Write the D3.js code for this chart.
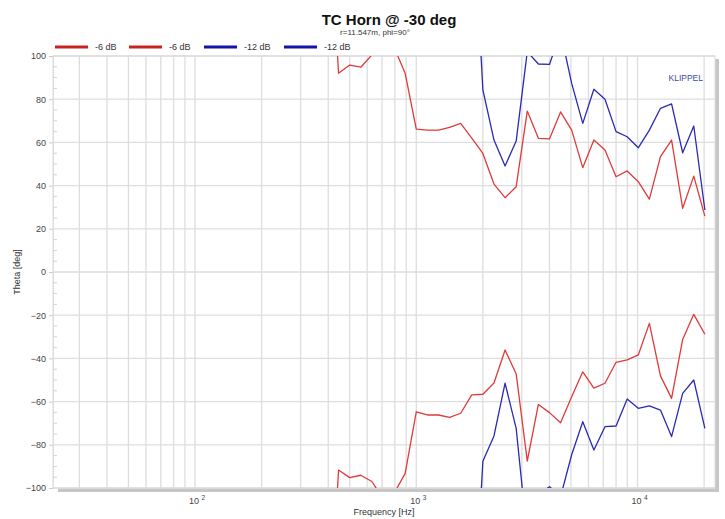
<!DOCTYPE html>
<html><head><meta charset="utf-8">
<script src="https://cdn.jsdelivr.net/npm/d3@7"></script>
<style>body{margin:0;background:#fff}svg{display:block;font-family:"Liberation Sans",Arial,sans-serif}</style>
</head><body><svg id="c" width="725" height="519"></svg>
<script>
// 1/6-octave frequencies [Hz]
const freqs = [396.9,445.4,500,561.2,630,707.1,793.7,890.9,1000,1122.5,1259.9,1414.2,1587.4,1781.8,2000,2244.9,2519.8,2828.4,3174.8,3563.6,4000,4489.8,5039.7,5656.9,6349.6,7127.2,8000,8979.7,10079.4,11313.7,12699.2,14254.4,16000,17959.4,20158.7];
const red6Upper = [180,92,95.8,94.8,100.5,110,104,92,66.1,65.7,65.7,67,68.8,62,54.9,40.7,34.4,39.5,74.5,61.9,61.6,74.1,65.7,48.3,61.1,56.5,44.1,46.8,41.8,33.7,53.4,61.1,29.5,44.4,25.9];
const red6Lower = [-180,-91.7,-95.2,-94.1,-97,-105,-102.5,-93.2,-64.7,-66.2,-66.2,-67.3,-65.4,-56.9,-56.6,-51.4,-36.1,-47.2,-87.5,-61.3,-65.1,-69.8,-57.7,-46.2,-53.8,-51.5,-41.8,-40.7,-38.4,-23.8,-48.1,-58.5,-31.2,-19.6,-28.8];
const blue12Upper = [null,null,null,null,null,null,null,null,null,null,null,null,null,180,84.3,61.1,49.1,60.6,102,96.3,96.1,111,87.3,68.8,84.6,80,65,62.6,57.5,65.7,75.8,77.8,55.2,67.6,28.7];
const blue12Lower = [null,null,null,null,null,null,null,null,null,null,null,null,null,-180,-87.6,-75.9,-51.5,-72.4,-123,-103,-99.4,-104,-84.6,-69.3,-82.4,-71.6,-71.3,-58.8,-63.1,-62,-63.9,-76.2,-56.2,-50,-72.4];
const legendLabels = ["-6 dB","-6 dB","-12 dB","-12 dB"];
const yTicks = [-100,-80,-60,-40,-20,0,20,40,60,80,100];
const xDecades = [100,1000,10000];
const xDecadeExp = ["2","3","4"];
const xGrid = [30,40,50,60,70,80,90,100,200,300,400,500,600,700,800,900,1000,2000,3000,4000,5000,6000,7000,8000,9000,10000,20000];

const svg = d3.select("#c");
const L=53,R=715,T=56,B=488;
const x = d3.scaleLog().domain([22.8,22400]).range([L,R]);
const y = d3.scaleLinear().domain([-100,100]).range([B,T]);

// frame with shadow
svg.append("rect").attr("x",L+5).attr("y",T+3).attr("width",R-L-1).attr("height",B-T+1).attr("fill","#c6c6c6");
svg.append("rect").attr("x",L).attr("y",T).attr("width",R-L).attr("height",B-T).attr("fill","#fff").attr("stroke","#dcdcdc").attr("stroke-width",1);

// grid
svg.append("g").selectAll("line").data(xGrid).join("line")
  .attr("x1",d=>x(d)).attr("x2",d=>x(d)).attr("y1",T).attr("y2",B)
  .attr("stroke","#dddddd").attr("stroke-width",1.3);
svg.append("g").selectAll("line").data(yTicks).join("line")
  .attr("x1",L).attr("x2",R).attr("y1",d=>y(d)).attr("y2",d=>y(d))
  .attr("stroke","#dddddd").attr("stroke-width",1.3);

// y axis
const ya = svg.append("g").attr("transform",`translate(${L},0)`)
  .call(d3.axisLeft(y).tickValues(yTicks).tickSize(4).tickPadding(3));
ya.select(".domain").attr("stroke","#dddddd");
ya.selectAll(".tick line").attr("stroke","#cccccc");
ya.selectAll("text").attr("font-size",9).attr("fill","#444").attr("font-family","Liberation Sans, Arial, sans-serif");
const minor = d3.range(-100,101,5).filter(v=>v%20!==0);
svg.append("g").selectAll("line").data(minor).join("line")
  .attr("x1",L).attr("x2",L+4).attr("y1",d=>y(d)).attr("y2",d=>y(d)).attr("stroke","#d4d4d4");

// x labels
const xl = svg.append("g").selectAll("text").data(xDecades).join("text")
  .attr("x",d=>x(d)+2).attr("y",504).attr("text-anchor","middle").attr("font-size",9).attr("fill","#444");
xl.append("tspan").text("10 ");
xl.append("tspan").attr("dy",-4).attr("font-size",6.5).text((d,i)=>xDecadeExp[i]);

// series
svg.append("clipPath").attr("id","pc").append("rect").attr("x",L).attr("y",T).attr("width",R-L).attr("height",B-T);
const line = d3.line().defined(d=>d[1]!==null).x(d=>x(d[0])).y(d=>y(d[1]));
const series = [[red6Upper,"#e03a3a"],[red6Lower,"#e03a3a"],[blue12Upper,"#2a2ab5"],[blue12Lower,"#2a2ab5"]];
const g = svg.append("g").attr("clip-path","url(#pc)");
series.forEach(([vals,col])=>{
  g.append("path").datum(freqs.map((f,i)=>[f,vals[i]])).attr("d",line)
   .attr("fill","none").attr("stroke",col).attr("stroke-width",1.3).attr("stroke-linejoin","round");
});

// titles
svg.append("text").attr("x",389).attr("y",25).attr("text-anchor","middle").attr("font-size",15).attr("font-weight","bold").attr("fill","#111").text("TC Horn @ -30 deg");
svg.append("text").attr("x",375).attr("y",35).attr("text-anchor","middle").attr("font-size",8).attr("fill","#333").text("r=11.547m, phi=90°");
svg.append("text").attr("x",384).attr("y",515).attr("text-anchor","middle").attr("font-size",9).attr("fill","#333").text("Frequency [Hz]");
svg.append("text").attr("transform","translate(20,272) rotate(-90)").attr("text-anchor","middle").attr("font-size",9).attr("fill","#333").text("Theta [deg]");
svg.append("text").attr("x",703).attr("y",81).attr("text-anchor","end").attr("font-size",8.5).attr("fill","#3a4a9e").text("KLIPPEL");

// legend
const legCols = ["#cc2222","#cc2222","#1414a8","#1414a8"];
const legX = [55,129,204,284];
const lg = svg.append("g");
legendLabels.forEach((t,i)=>{
  lg.append("line").attr("x1",legX[i]).attr("x2",legX[i]+33).attr("y1",47).attr("y2",47).attr("stroke",legCols[i]).attr("stroke-width",3);
  lg.append("text").attr("x",legX[i]+40).attr("y",50).attr("font-size",9).attr("fill","#333").text(t);
});
</script></body></html>
